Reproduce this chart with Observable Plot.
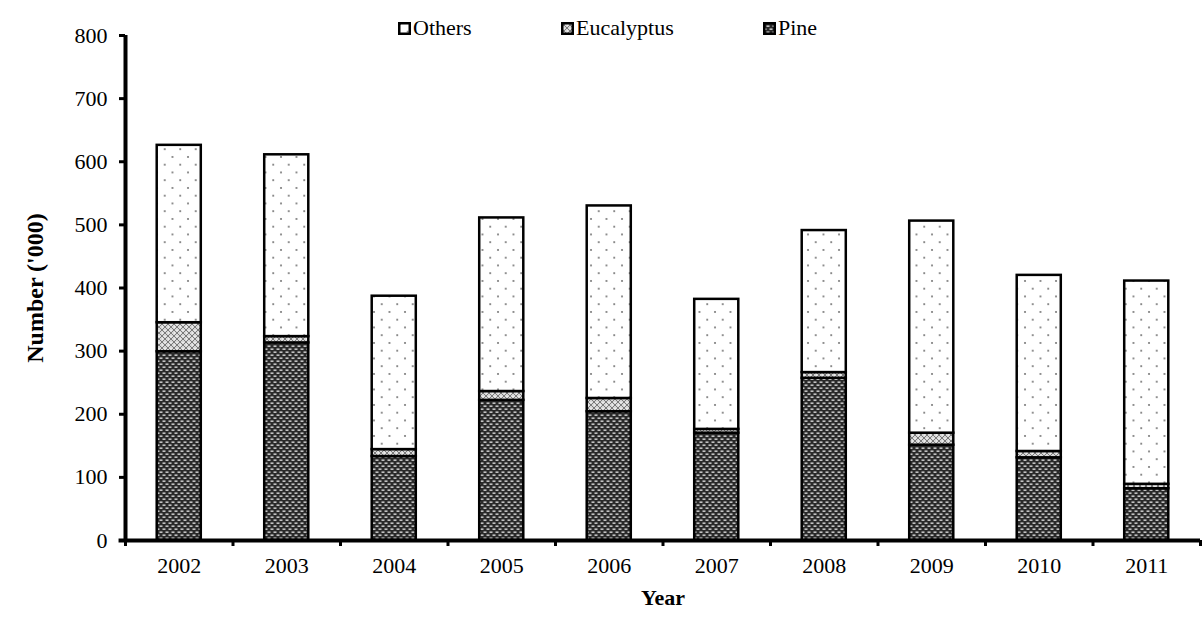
<!DOCTYPE html>
<html>
<head>
<meta charset="utf-8">
<script src="https://cdn.jsdelivr.net/npm/d3@7"></script>
<script src="https://cdn.jsdelivr.net/npm/@observablehq/plot@0.6"></script>
<style>
  html, body { margin: 0; padding: 0; background: #fff; }
  #wrap { position: relative; width: 1202px; height: 635px; font-family: "Times New Roman", "Liberation Serif", Times, serif; }
  #legend { position: absolute; top: 15px; left: 0; width: 1202px; height: 26px; }
  .item { position: absolute; display: flex; align-items: center; font-family: "Times New Roman", "Liberation Serif", Times, serif; font-size: 22px; color: #000; line-height: 26px; }
  .item svg { margin-right: 2px; }
  svg text { font-family: "Times New Roman", "Liberation Serif", Times, serif; }
</style>
</head>
<body>
<div id="wrap">
  <div id="chart"></div>
  <div id="legend"></div>
</div>
<script>
const years = [2002, 2003, 2004, 2005, 2006, 2007, 2008, 2009, 2010, 2011];
const pine = [299, 313, 133, 222, 204, 170, 257, 151, 131, 82];
const eucalyptus = [46, 10, 11, 14, 21, 6, 9, 19, 10, 7];
const others = [281, 288, 243, 275, 305, 206, 225, 336, 279, 322];
const seriesNames = ["Pine", "Eucalyptus", "Others"];
const legendOrder = ["Others", "Eucalyptus", "Pine"];
const yTicks = [0, 100, 200, 300, 400, 500, 600, 700, 800];

const patternIds = {Pine: "pat-pine", Eucalyptus: "pat-euc", Others: "pat-others"};
const seriesValues = {Pine: pine, Eucalyptus: eucalyptus, Others: others};

const rows = [];
years.forEach((yr, i) => {
  let base = 0;
  for (const s of seriesNames) {
    const v = seriesValues[s][i];
    rows.push({year: yr, series: s, y1: base, y2: base + v, fill: `url(#${patternIds[s]})`});
    base += v;
  }
});
const boundaries = [...years.map(y => y - 0.5), years[years.length - 1] + 0.5];
const halfBar = 0.205;
const serif = "'Times New Roman', 'Liberation Serif', Times, serif";

const chart = Plot.plot({
  width: 1202,
  height: 635,
  marginLeft: 125,
  marginRight: 2,
  marginTop: 35,
  marginBottom: 95,
  style: {fontFamily: serif, fontSize: "22px", color: "#000", background: "#fff"},
  x: {domain: [years[0] - 0.5, years[years.length - 1] + 0.5]},
  y: {domain: [0, 800]},
  color: {type: "identity"},
  marks: [
    Plot.rect(rows, {
      x1: d => d.year - halfBar,
      x2: d => d.year + halfBar,
      y1: "y1",
      y2: "y2",
      fill: "fill",
      stroke: "#000",
      strokeWidth: 2.5
    }),
    Plot.axisY({ticks: yTicks, tickSize: 6, tickPadding: 12, strokeWidth: 3, fontSize: 22, fontWeight: "normal", fontFamily: serif, label: null, tickFormat: d => d}),
    Plot.axisY({ticks: [], label: "Number ('000)", labelAnchor: "center", labelArrow: "none", labelOffset: 100, fontSize: 24, fontWeight: "bold", fontFamily: serif}),
    Plot.axisX({ticks: boundaries, tickSize: 6, strokeWidth: 3, tickFormat: () => "", label: null}),
    Plot.axisX({ticks: years, tickSize: 0, tickPadding: 17, fontSize: 22, fontWeight: "normal", fontFamily: serif, tickFormat: d => String(d), label: null}),
    Plot.axisX({ticks: [], label: "Year", labelAnchor: "center", labelArrow: "none", labelOffset: 64, fontSize: 22, fontWeight: "bold", fontFamily: serif}),
    Plot.ruleX([years[0] - 0.5], {stroke: "#000", strokeWidth: 4}),
    Plot.ruleY([0], {stroke: "#000", strokeWidth: 4, x1: years[0] - 0.56, x2: years[years.length - 1] + 0.5})
  ]
});

const defsMarkup = `
  <pattern id="pat-pine" width="6" height="6" patternUnits="userSpaceOnUse">
    <rect width="6" height="6" fill="#2a2a2a"/>
    <rect x="0.5" y="0.5" width="3" height="1.3" fill="#e6e6e6"/>
    <rect x="3.5" y="3.5" width="3" height="1.3" fill="#e6e6e6"/>
    <rect x="-2.5" y="3.5" width="3" height="1.3" fill="#e6e6e6"/>
  </pattern>
  <pattern id="pat-euc" width="6" height="6" patternUnits="userSpaceOnUse">
    <rect width="6" height="6" fill="#d8d8d8"/>
    <path d="M0,0L6,6M6,0L0,6" stroke="#7a7a7a" stroke-width="1"/>
    <rect x="2.5" y="0" width="1" height="1" fill="#fff"/>
    <rect x="0" y="2.5" width="1" height="1" fill="#fff"/>
  </pattern>
  <pattern id="pat-others" width="15.5" height="15.5" patternUnits="userSpaceOnUse">
    <rect width="15.5" height="15.5" fill="#fff"/>
    <circle cx="2" cy="2" r="1" fill="#6a6a6a"/>
    <circle cx="9.75" cy="9.75" r="1" fill="#6a6a6a"/>
  </pattern>`;
const defs = document.createElementNS("http://www.w3.org/2000/svg", "defs");
defs.innerHTML = defsMarkup;
chart.insertBefore(defs, chart.firstChild);
document.getElementById("chart").appendChild(chart);

const legendLeft = {Others: 398, Eucalyptus: 561, Pine: 763};
const legend = document.getElementById("legend");
for (const s of legendOrder) {
  const item = document.createElement("div");
  item.className = "item";
  item.style.left = legendLeft[s] + "px";
  item.innerHTML = `<svg width="13" height="13"><rect x="1.25" y="1.25" width="10.5" height="10.5" fill="url(#${patternIds[s]})" stroke="#000" stroke-width="2.5"/></svg><span>${s}</span>`;
  legend.appendChild(item);
}
</script>
</body>
</html>
